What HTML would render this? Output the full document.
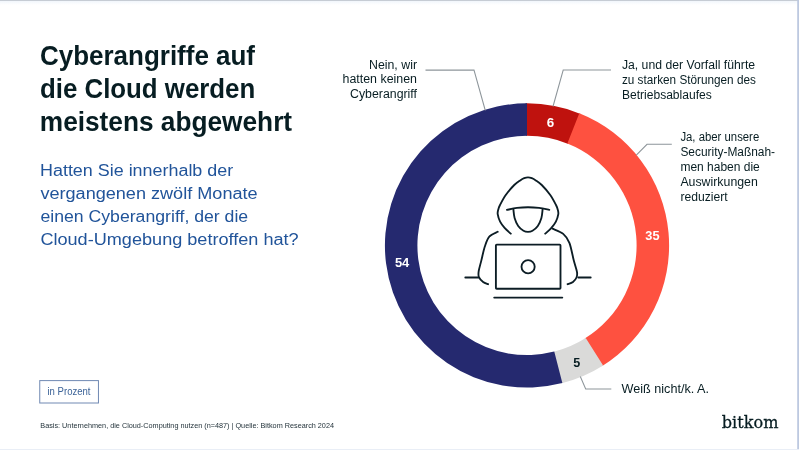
<!DOCTYPE html>
<html lang="de"><head><meta charset="utf-8"><title>Cyberangriffe auf die Cloud</title>
<style>
html,body{margin:0;padding:0;background:#fff;}
body{width:799px;height:450px;overflow:hidden;}
svg{display:block}
text{font-family:"Liberation Sans",sans-serif;}
.b{font-weight:bold}
.d{fill:#071d22}
.g{fill:#1d2d35}
.bl{fill:#21549a}
.w{fill:#fff}
.logo{font-family:"DejaVu Serif","Liberation Serif",serif;stroke:#071d22;stroke-width:0.3px}
.pz{fill:#3c6398}
</style></head><body>
<svg width="799" height="450" viewBox="0 0 799 450">
<defs><linearGradient id="tg" x1="0" y1="0" x2="0" y2="1"><stop offset="0" stop-color="#eef4fb"/><stop offset="1" stop-color="#ffffff"/></linearGradient></defs>
<rect width="799" height="450" fill="#fff"/>
<rect x="0" y="0" width="799" height="5" fill="url(#tg)"/>
<rect x="0" y="0" width="799" height="1" fill="#c6ccd4"/>
<rect x="797.2" y="0" width="1.8" height="450" fill="#bdc9e0"/>
<rect x="0" y="449" width="799" height="1" fill="#e9eef6"/>
<path d="M525.51 103.36A142.1 142.1 0 0 1 580.69 113.88L568.41 143.97A109.6 109.6 0 0 0 525.85 135.86Z" fill="#bf120e"/>
<path d="M579.31 113.33A142.1 142.1 0 0 1 601.88 366.22L584.75 338.60A109.6 109.6 0 0 0 567.35 143.55Z" fill="#fe5140"/>
<path d="M603.14 365.43A142.1 142.1 0 0 1 560.90 383.45L553.14 351.89A109.6 109.6 0 0 0 585.73 337.99Z" fill="#dadad9"/>
<path d="M562.34 383.09A142.1 142.1 0 1 1 527.00 103.35L527.00 135.85A109.6 109.6 0 1 0 554.26 351.61Z" fill="#25296f"/>

<g fill="none" stroke="#8d959a" stroke-width="1.05">
<path d="M425.5 70.1H474L485.3 110.5"/>
<path d="M611 70H563.2L553 106.5"/>
<path d="M671.8 144.3H647L636.3 155.2"/>
<path d="M580.3 376.5L585.7 389H611.3"/>
</g>


<g fill="none" stroke="#0c1d25" stroke-width="1.85" stroke-linecap="round" stroke-linejoin="round">
<path d="M510.80 233.70C509.77 232.72 506.38 229.82 504.60 227.80C502.82 225.78 501.25 223.87 500.10 221.60C498.95 219.33 498.00 216.22 497.70 214.20C497.40 212.18 497.92 211.03 498.30 209.50C498.68 207.97 498.76 207.42 500.00 205.00C501.24 202.58 503.38 198.33 505.75 195.00C508.12 191.67 511.84 187.43 514.25 185.00C516.66 182.57 518.54 181.53 520.20 180.40C521.86 179.27 522.90 178.70 524.20 178.20C525.50 177.70 526.73 177.40 528.00 177.40C529.27 177.40 530.50 177.70 531.80 178.20C533.10 178.70 534.14 179.27 535.80 180.40C537.46 181.53 539.34 182.57 541.75 185.00C544.16 187.43 547.88 191.67 550.25 195.00C552.62 198.33 554.76 202.58 556.00 205.00C557.24 207.42 557.32 207.97 557.70 209.50C558.08 211.03 558.60 212.18 558.30 214.20C558.00 216.22 557.05 219.33 555.90 221.60C554.75 223.87 553.18 225.78 551.40 227.80C549.62 229.82 546.23 232.72 545.20 233.70"/>
<path d="M506.90 209.90C508.58 209.57 513.48 208.35 517.00 207.90C520.52 207.45 524.33 207.20 528.00 207.20C531.67 207.20 535.45 207.45 539.00 207.90C542.55 208.35 547.58 209.57 549.30 209.90"/>
<path d="M513.40 209.50C513.60 210.92 513.80 215.25 514.60 218.00C515.40 220.75 516.72 223.87 518.20 226.00C519.68 228.13 521.87 229.82 523.50 230.80C525.13 231.78 526.50 231.90 528.00 231.90C529.50 231.90 530.87 231.78 532.50 230.80C534.13 229.82 536.32 228.13 537.80 226.00C539.28 223.87 540.60 220.75 541.40 218.00C542.20 215.25 542.40 210.92 542.60 209.50"/>
<path d="M497.70 231.80C496.30 232.60 491.43 234.18 489.30 236.60C487.17 239.02 486.23 242.30 484.90 246.30C483.57 250.30 482.33 256.45 481.30 260.60C480.27 264.75 479.10 268.43 478.70 271.20C478.30 273.97 478.17 275.42 478.90 277.20C479.63 278.98 481.57 280.73 483.10 281.90C484.63 283.07 487.27 283.82 488.10 284.20"/>
<path d="M552.50 228.60C554.28 229.48 560.38 231.53 563.20 233.90C566.02 236.27 567.63 238.35 569.40 242.80C571.17 247.25 572.53 255.72 573.80 260.60C575.07 265.48 576.55 269.28 577.00 272.10C577.45 274.92 577.17 275.87 576.50 277.50C575.83 279.13 574.48 280.78 573.00 281.90C571.52 283.02 568.50 283.82 567.60 284.20"/>
<path d="M465.3 277.5H478.4M578.3 277.5H590.7"/>
<rect x="495.9" y="244.6" width="64.6" height="44.1" rx="0.8"/>
<circle cx="528.1" cy="266.8" r="6.6"/>
<path d="M494.2 297.6H562.3"/>
</g>

<rect x="39.75" y="380.6" width="58.7" height="22.4" fill="#fff" stroke="#7089b3" stroke-width="1"/>
<text x="40.0" y="65.1" font-size="27.5" class="b d" textLength="215" lengthAdjust="spacingAndGlyphs">Cyberangriffe auf</text>
<text x="40.0" y="98.2" font-size="27.5" class="b d" textLength="215.2" lengthAdjust="spacingAndGlyphs">die Cloud werden</text>
<text x="39.8" y="131.4" font-size="27.5" class="b d" textLength="252.3" lengthAdjust="spacingAndGlyphs">meistens abgewehrt</text>
<text x="40.0" y="175.8" font-size="17.3" class="bl" textLength="193.2" lengthAdjust="spacingAndGlyphs">Hatten Sie innerhalb der</text>
<text x="40.4" y="199.0" font-size="17.3" class="bl" textLength="217.2" lengthAdjust="spacingAndGlyphs">vergangenen zwölf Monate</text>
<text x="40.4" y="222.3" font-size="17.3" class="bl" textLength="207.8" lengthAdjust="spacingAndGlyphs">einen Cyberangriff, der die</text>
<text x="40.4" y="245.4" font-size="17.3" class="bl" textLength="258.3" lengthAdjust="spacingAndGlyphs">Cloud-Umgebung betroffen hat?</text>
<text x="369" y="68.75" font-size="12" class="d" textLength="48" lengthAdjust="spacingAndGlyphs">Nein, wir</text>
<text x="342.5" y="83.4" font-size="12" class="d" textLength="74.5" lengthAdjust="spacingAndGlyphs">hatten keinen</text>
<text x="350" y="98" font-size="12" class="d" textLength="67" lengthAdjust="spacingAndGlyphs">Cyberangriff</text>
<text x="621.9" y="68.5" font-size="12" class="d" textLength="133.2" lengthAdjust="spacingAndGlyphs">Ja, und der Vorfall führte</text>
<text x="621.9" y="83.6" font-size="12" class="d" textLength="134" lengthAdjust="spacingAndGlyphs">zu starken Störungen des</text>
<text x="621.9" y="98.6" font-size="12" class="d" textLength="89.9" lengthAdjust="spacingAndGlyphs">Betriebsablaufes</text>
<text x="680.4" y="141.3" font-size="12" class="d" textLength="78.8" lengthAdjust="spacingAndGlyphs">Ja, aber unsere</text>
<text x="680.4" y="156.1" font-size="12" class="d" textLength="94.7" lengthAdjust="spacingAndGlyphs">Security-Maßnah-</text>
<text x="680.4" y="171.0" font-size="12" class="d" textLength="79.4" lengthAdjust="spacingAndGlyphs">men haben die</text>
<text x="680.4" y="185.8" font-size="12" class="d" textLength="77.4" lengthAdjust="spacingAndGlyphs">Auswirkungen</text>
<text x="680.4" y="200.6" font-size="12" class="d" textLength="47.3" lengthAdjust="spacingAndGlyphs">reduziert</text>
<text x="621.5" y="392.5" font-size="12" class="d" textLength="87.5" lengthAdjust="spacingAndGlyphs">Weiß nicht/k. A.</text>
<text x="550.4" y="126.7" font-size="13.4" class="b w" text-anchor="middle">6</text>
<text x="645.3" y="239.7" font-size="13.2" class="b w" textLength="14.2" lengthAdjust="spacingAndGlyphs">35</text>
<text x="394.9" y="267.2" font-size="13.2" class="b w" textLength="14.4" lengthAdjust="spacingAndGlyphs">54</text>
<text x="576.8" y="367" font-size="12.6" class="b d" text-anchor="middle">5</text>
<text x="47.5" y="395.3" font-size="10.8" class="pz" textLength="43" lengthAdjust="spacingAndGlyphs">in Prozent</text>
<text x="40.3" y="427.7" font-size="7.8" class="g" textLength="293.7" lengthAdjust="spacingAndGlyphs">Basis: Unternehmen, die Cloud-Computing nutzen (n=487) | Quelle: Bitkom Research 2024</text>
<text x="721.8" y="428.1" font-size="17.3" class="d logo" textLength="56.6" lengthAdjust="spacingAndGlyphs">bitkom</text>
</svg>
</body></html>
